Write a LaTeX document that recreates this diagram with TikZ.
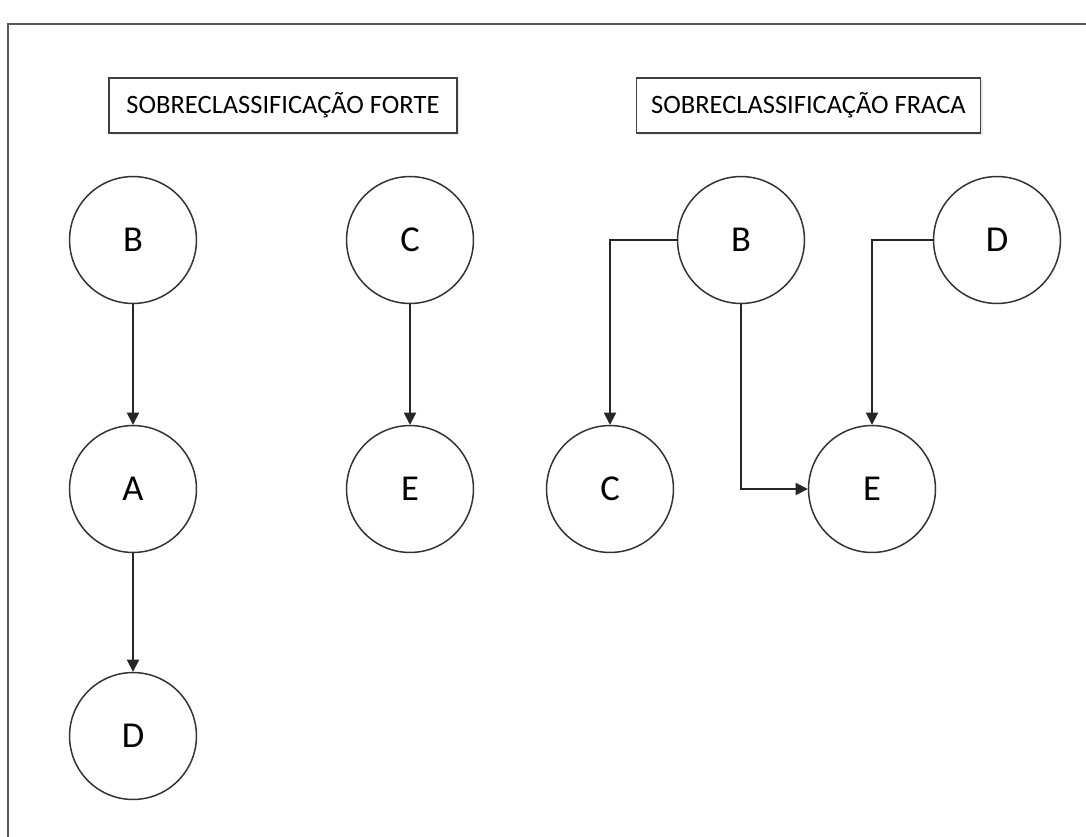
\documentclass[tikz,border=0pt]{standalone}
\usepackage{fontspec}
\setmainfont{Carlito}
\usetikzlibrary{arrows.meta,shadows}

\tikzset{
    estado/.style={circle, draw=black!80, line width=1.1pt, minimum size=3.3cm,
        inner sep=0pt, font=\fontsize{27}{31}\selectfont},
    titulo/.style={draw=black!75, line width=0.9pt, fill=white,
        minimum width=9.05cm, minimum height=1.43cm, font=\fontsize{19.6}{23}\selectfont,
        drop shadow={shadow xshift=0.06cm, shadow yshift=-0.06cm, opacity=0.18}},
    seta/.style={-{Triangle[length=9pt,width=9pt]}, line width=1.1pt, black!85}
}

\begin{document}
\begin{tikzpicture}[x=0.026cm, y=-0.026cm]
    \useasboundingbox (0,0) rectangle (1086,836);
    \clip (0,0) rectangle (1086,836);
    \fill[white] (0,0) rectangle (1086,836);
    \draw[black!65, line width=1.1pt] (8,24) rectangle (1110,860);

    % titulos
    \node[titulo] (forte) at (283,105.5) {SOBRECLASSIFICAÇÃO FORTE};
    \node[titulo, minimum width=8.95cm] (fraca) at (808.5,105.5) {SOBRECLASSIFICAÇÃO FRACA};

    % sobreclassificacao forte
    \node[estado] (B1) at (133,240) {B};
    \node[estado] (A1) at (133,489) {A};
    \node[estado] (D1) at (133,736) {D};
    \node[estado] (C1) at (410,240) {C};
    \node[estado] (E1) at (410,489) {E};

    \draw[seta] (B1) -- (A1);
    \draw[seta] (A1) -- (D1);
    \draw[seta] (C1) -- (E1);

    % sobreclassificacao fraca
    \node[estado] (B2) at (741,240) {B};
    \node[estado] (C2) at (610,489) {C};
    \node[estado] (E2) at (872,489) {E};
    \node[estado] (D2) at (997,240) {D};

    \draw[seta] (B2.west) -| (C2.north);
    \draw[seta] (B2.south) |- (E2.west);
    \draw[seta] (D2.west) -| (E2.north);
\end{tikzpicture}
\end{document}
